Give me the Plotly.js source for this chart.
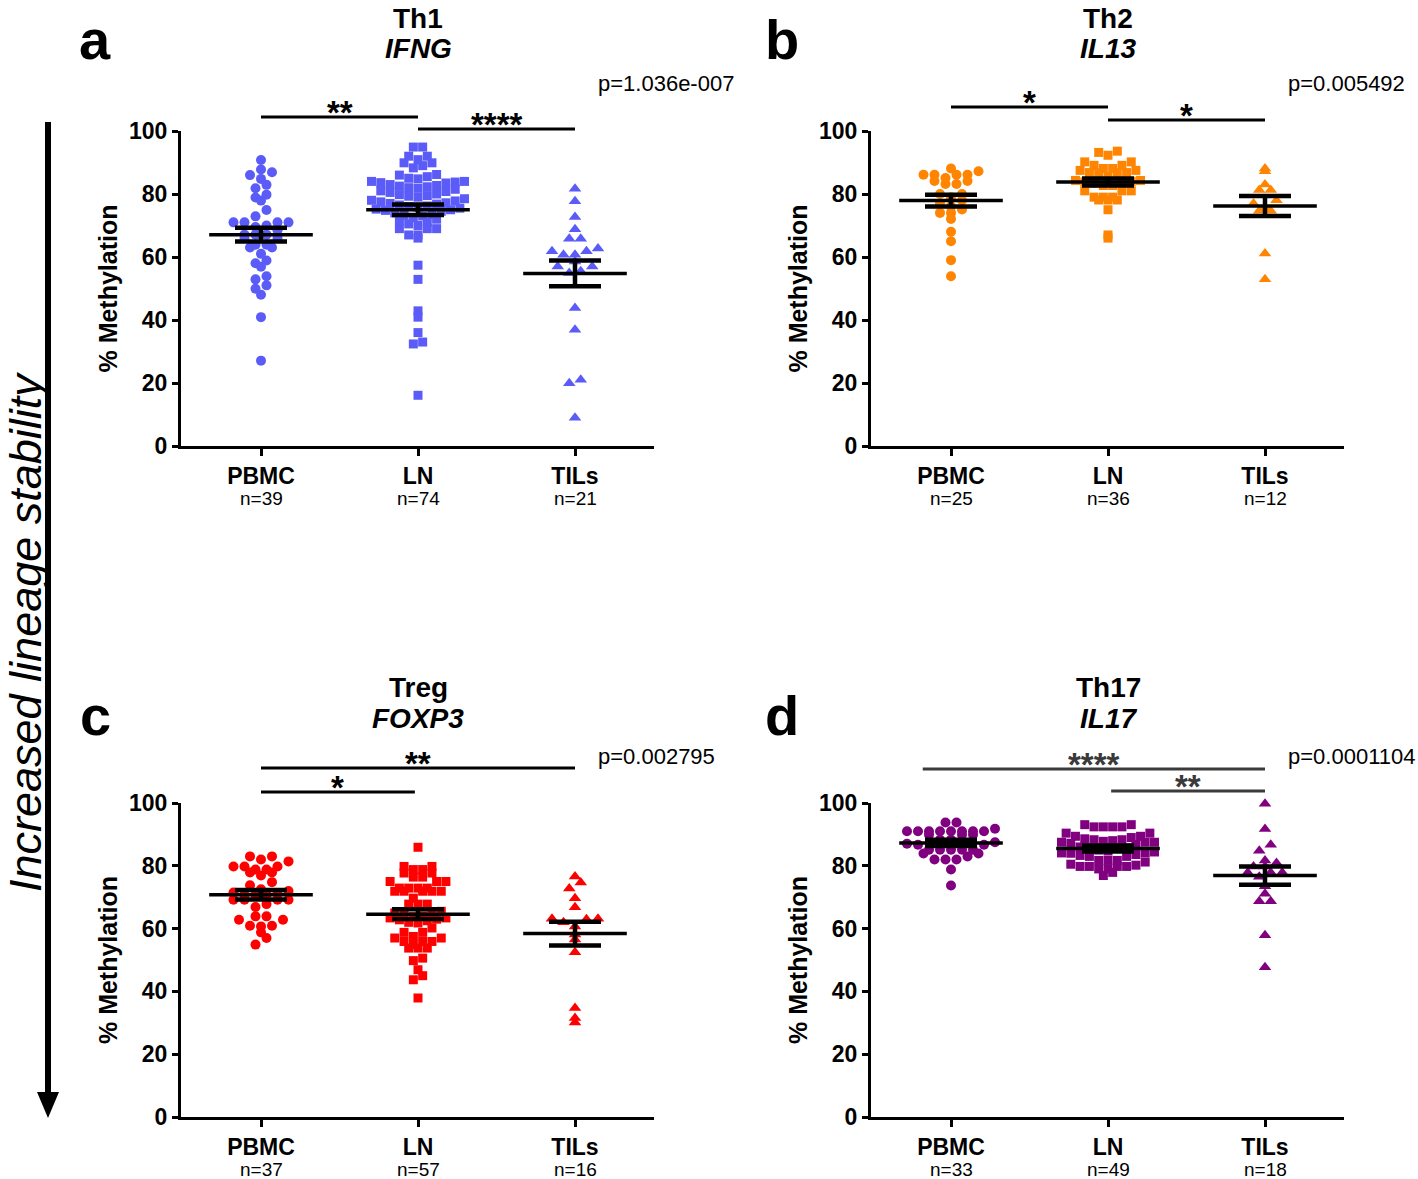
<!DOCTYPE html>
<html><head><meta charset="utf-8">
<script src="https://cdn.plot.ly/plotly-3.0.1.min.js"></script>
<style>body{margin:0;background:#fff}#chart{width:1418px;height:1179px}</style>
</head><body><div id="chart"></div>
<script>
// ---------------- DATA ----------------
const categories = ['PBMC', 'LN', 'TILs'];
const panelLetters = ['a', 'b', 'c', 'd'];
const cellTypes = ['Th1', 'Th2', 'Treg', 'Th17'];
const genes = ['IFNG', 'IL13', 'FOXP3', 'IL17'];
const pValues = ['p=1.036e-007', 'p=0.005492', 'p=0.002795', 'p=0.0001104'];

// Panel a: Th1 / IFNG
const th1_PBMC = [90.8, 87.8, 86.9, 86.0, 84.8, 82.9, 81.8, 79.8, 78.9, 77.9, 74.9, 72.9, 71.0, 71.0, 71.0, 71.0, 70.0, 69.5, 68.5, 67.1, 67.1, 67.1, 66.0, 66.0, 63.9, 63.9, 63.0, 63.0, 61.0, 58.9, 58.0, 56.9, 53.9, 52.9, 51.0, 49.9, 48.0, 40.9, 27.1];
const th1_LN = [94.9, 94.9, 92.0, 92.0, 90.9, 89.9, 89.9, 89.0, 88.3,
  86.2, 86.0, 85.5, 85.0, 84.8, 77.8, 77.2, 76.8, 84.0, 84.0, 83.8, 83.6, 83.5,
  83.0, 82.7, 82.5, 82.3, 82.0, 81.8, 81.5, 81.0, 80.8, 80.5, 76.2, 75.8, 80.0, 79.8, 79.5, 79.3,
  79.0, 78.5, 78.0, 77.5, 77.0, 76.5, 76.0, 75.5, 75.2, 75.0, 74.8, 74.5, 74.0, 73.5, 73.2, 73.0, 72.5,
  72.0, 71.5, 71.0, 70.5, 70.0, 69.0, 69.0, 69.0, 67.0, 67.0, 66.0,
  57.4, 52.9, 42.9, 40.9, 36.0, 33.0, 32.4, 16.1];
const th1_TILs = [81.7, 77.7, 72.7, 68.8, 65.8, 65.8, 62.7, 61.8, 61.8, 60.7, 60.7, 58.6, 57.0, 57.0, 55.5, 54.9, 43.8, 36.9, 21.0, 19.9, 9.0];
const th1_mean = [67.1, 75.0, 54.8];
const th1_sem = [2.2, 1.7, 4.1];
const th1_n = [39, 74, 21];

// Panel b: Th2 / IL13
const th2_PBMC = [88.1, 87.2, 86.1, 86.1, 86.1, 86.1, 85.1, 84.1, 84.1, 83.2, 83.2, 80.0, 80.0, 79.0, 78.0, 77.0, 76.1, 75.1, 74.0, 74.0, 72.1, 68.0, 65.0, 59.0, 53.9];
const th2_LN = [93.6, 93.2, 92.3, 90.2, 90.2, 89.1, 89.1, 88.1, 88.1, 87.5, 87.5, 86.8, 86.8, 86.8, 86.8, 85.4, 84.3, 84.3, 84.0, 83.8, 83.6, 83.4, 82.7, 82.7, 81.0, 81.0, 81.0, 79.0, 79.0, 79.0, 78.1, 78.1, 78.1, 75.0, 67.0, 66.0];
const th2_TILs = [88.1, 87.2, 83.0, 81.3, 81.3, 78.0, 77.0, 75.8, 74.7, 74.7, 61.1, 52.9];
const th2_mean = [77.9, 83.8, 76.2];
const th2_sem = [1.9, 1.1, 3.2];
const th2_n = [25, 36, 12];

// Panel c: Treg / FOXP3
const treg_PBMC = [83.0, 83.0, 82.0, 81.4, 79.8, 79.8, 79.8, 78.8, 78.8, 77.9, 77.9, 76.9, 74.8, 73.8, 72.5, 72.0, 71.5, 71.2, 70.8, 70.8, 70.8, 69.2, 69.2, 69.2, 69.2, 67.8, 66.9, 63.9, 63.9, 62.8, 62.8, 60.9, 60.9, 60.7, 58.8, 57.0, 54.9];
const treg_LN = [85.9, 79.8, 79.8, 78.8, 78.8, 77.7, 77.7, 76.4, 76.4, 75.0, 75.0, 75.0, 72.9, 72.9, 72.9, 72.9, 71.9, 71.9, 71.9, 71.9, 71.9, 69.7, 67.8, 67.8, 67.8,
  65.5, 65.0, 65.0, 64.5, 64.0, 63.8, 63.4, 63.4, 63.0, 62.8, 62.5, 62.0, 61.8,
  60.2, 58.8, 58.8, 57.5, 57.0, 57.0, 55.9, 55.9, 55.9, 54.9, 53.8, 53.8, 53.8, 50.6, 49.8, 46.9, 45.0, 43.7, 37.9];
const treg_TILs = [76.6, 74.7, 72.8, 69.7, 66.8, 63.1, 63.1, 63.0, 62.0, 60.7, 58.1, 56.5, 52.5, 34.7, 31.5, 30.1];
const treg_mean = [70.8, 64.6, 58.4];
const treg_sem = [1.5, 1.55, 3.75];
const treg_n = [37, 57, 16];

// Panel d: Th17 / IL17
const th17_PBMC = [93.8, 93.8, 91.8, 91.0, 91.0, 91.0, 91.0, 91.0, 91.0, 91.0, 91.0, 89.9, 89.9, 89.9, 88.3, 88.3, 87.5, 87.0, 86.7, 86.7, 85.1, 85.1, 85.1, 85.1, 85.1, 83.9, 83.9, 83.0, 82.0, 82.0, 82.0, 78.8, 73.7];
const th17_LN = [93.1, 93.1, 92.4, 92.4, 92.4, 92.4, 90.4, 90.4, 89.4, 89.4, 88.3, 88.3, 87.5, 87.5, 87.5,
  89.0, 88.6, 88.0, 87.8, 87.2, 86.8, 81.2, 80.5, 86.0, 85.6, 80.2, 85.0, 84.7, 84.4, 84.0, 83.6, 83.3,
  85.7, 85.7, 84.1, 84.1, 83.0, 83.0, 81.7, 81.7, 81.7, 79.8, 79.8, 79.8, 79.8, 79.0, 79.0, 77.9, 76.9];
const th17_TILs = [99.8, 91.7, 86.7, 84.8, 81.7, 80.9, 79.8, 79.8, 77.9, 77.9, 77.9, 76.5, 73.5, 71.1, 68.7, 68.7, 57.9, 47.7];
const th17_mean = [87.3, 85.5, 76.9];
const th17_sem = [1.0, 0.95, 2.9];
const th17_n = [33, 49, 18];

// significance comparisons: [from category, to category], and labels
const th1_sigPairs = [[0, 1], [1, 2]];
const th1_sigLabels = ['**', '****'];
const th2_sigPairs = [[0, 1], [1, 2]];
const th2_sigLabels = ['*', '*'];
const treg_sigPairs = [[0, 2], [0, 0.98]];
const treg_sigLabels = ['**', '*'];
const th17_sigPairs = [[-0.18, 2], [1.02, 2]];
const th17_sigLabels = ['****', '**'];

// ---------------- LAYOUT / STYLE ----------------
const W = 1418, H = 1179;
const UNIT = 157;           // px per category
const YPX = 3.145;          // px per % unit
const colors = ['#5B5BF8', '#FF8400', '#FF0000', '#800080'];
const symbols = ['circle', 'square', 'triangle-up'];
const msize = [10, 9, 11];
const rowStep = [11, 9.3, 11.5];   // horizontal spacing of points within a row (px)
const ROW_PX = 9.5;                // height of a row bin (px)
const SANS = '"Liberation Sans", Arial, sans-serif';

const panels = [
  {groups: [th1_PBMC, th1_LN, th1_TILs], mean: th1_mean, sem: th1_sem, n: th1_n, pairs: th1_sigPairs, labels: th1_sigLabels,
   cx0: 261, top: 131, bottom: 446, sigY: [117, 129], sigColor: '#000', titleY: [18, 48], pY: 84, letterXY: [95, 40]},
  {groups: [th2_PBMC, th2_LN, th2_TILs], mean: th2_mean, sem: th2_sem, n: th2_n, pairs: th2_sigPairs, labels: th2_sigLabels,
   cx0: 951, top: 131, bottom: 446, sigY: [107, 120], sigColor: '#000', titleY: [18, 48], pY: 84, letterXY: [782, 40]},
  {groups: [treg_PBMC, treg_LN, treg_TILs], mean: treg_mean, sem: treg_sem, n: treg_n, pairs: treg_sigPairs, labels: treg_sigLabels,
   cx0: 261, top: 803, bottom: 1117, sigY: [768, 792], sigColor: '#000', titleY: [687, 718], pY: 756, letterXY: [95, 715]},
  {groups: [th17_PBMC, th17_LN, th17_TILs], mean: th17_mean, sem: th17_sem, n: th17_n, pairs: th17_sigPairs, labels: th17_sigLabels,
   cx0: 951, top: 803, bottom: 1117, sigY: [769, 791], sigColor: '#3a3a3a', titleY: [687, 718], pY: 756, letterXY: [782, 715]}
];

const px = x => x / W;
const py = y => 1 - y / H;

// Prism-style scatter: values are binned into rows, each row spread symmetrically
function rowOffsets(values, step) {
  const binU = ROW_PX / YPX;
  const bins = {};
  values.forEach((v, i) => { const b = Math.floor(v / binU); (bins[b] = bins[b] || []).push(i); });
  const out = new Array(values.length);
  Object.values(bins).forEach(list => {
    list.sort((a, b) => values[a] - values[b]);
    const n = list.length;
    list.forEach((idx, j) => {
      let pos;
      if (n % 2 === 1) pos = j === 0 ? 0 : Math.ceil(j / 2) * (j % 2 ? -1 : 1);
      else pos = (Math.floor(j / 2) + 0.5) * (j % 2 ? 1 : -1);
      out[idx] = pos * step;
    });
  });
  return out;
}

const traces = [];
const layout = {
  width: W, height: H, margin: {l: 0, r: 0, t: 0, b: 0},
  paper_bgcolor: '#fff', plot_bgcolor: 'rgba(0,0,0,0)', showlegend: false,
  font: {family: SANS, color: '#000'},
  shapes: [], annotations: []
};

function note(x, y, text, font, extra) {
  return Object.assign({xref: 'paper', yref: 'paper', x: px(x), y: py(y), xanchor: 'center', yanchor: 'middle',
    text: text, showarrow: false, font: font}, extra || {});
}

panels.forEach((P, k) => {
  const ax = k === 0 ? '' : String(k + 1);
  const xa = 'x' + ax, ya = 'y' + ax;
  const xr = [-0.51, 2.5];
  const xl = P.cx0 + xr[0] * UNIT, xrgt = P.cx0 + xr[1] * UNIT;
  layout['xaxis' + ax] = {
    domain: [px(xl), px(xrgt)], range: xr, anchor: ya,
    tickvals: [0, 1, 2], ticktext: categories, ticks: 'outside', ticklen: 7, tickwidth: 3, tickcolor: '#000',
    showline: true, linewidth: 3, linecolor: '#000', showgrid: false, zeroline: false, fixedrange: true,
    tickfont: {family: SANS, size: 23, weight: 'bold', color: '#000'}
  };
  layout['yaxis' + ax] = {
    domain: [py(P.bottom), py(P.top)], range: [0, 100], anchor: xa,
    tickvals: [0, 20, 40, 60, 80, 100], ticks: 'outside', ticklen: 6, tickwidth: 3, tickcolor: '#000',
    showline: true, linewidth: 3, linecolor: '#000', showgrid: false, zeroline: false, fixedrange: true,
    tickfont: {family: SANS, size: 23, weight: 'bold', color: '#000'},
    title: {text: '% Methylation', font: {family: SANS, size: 25, weight: 'bold', color: '#000'}, standoff: 5}
  };

  // points
  P.groups.forEach((vals, g) => {
    const off = rowOffsets(vals, rowStep[g]);
    traces.push({
      type: 'scatter', mode: 'markers', xaxis: xa, yaxis: ya, cliponaxis: false,
      x: vals.map((v, i) => g + off[i] / UNIT), y: vals,
      marker: {symbol: symbols[g], size: msize[g], color: colors[k], line: {width: 0}},
      hoverinfo: 'y'
    });
  });
  // mean lines
  const mx = [], my = [];
  P.mean.forEach((m, g) => { mx.push(g - 0.33, g + 0.33, null); my.push(m, m, null); });
  traces.push({type: 'scatter', mode: 'lines', xaxis: xa, yaxis: ya, x: mx, y: my,
    line: {color: '#000', width: 3.5}, hoverinfo: 'skip', cliponaxis: false});
  // SEM error bars
  traces.push({type: 'scatter', mode: 'markers', xaxis: xa, yaxis: ya, x: [0, 1, 2], y: P.mean,
    marker: {size: 1, opacity: 0}, hoverinfo: 'skip', cliponaxis: false,
    error_y: {type: 'data', array: P.sem, visible: true, color: '#000', thickness: 4.5, width: 26}});

  // significance bars
  P.pairs.forEach((pr, j) => {
    const yb = P.sigY[j];
    layout.shapes.push({type: 'line', xref: xa, yref: 'paper', x0: pr[0], x1: pr[1], y0: py(yb), y1: py(yb),
      line: {color: P.sigColor, width: 3}});
    layout.annotations.push({xref: xa, yref: 'paper', x: (pr[0] + pr[1]) / 2, y: py(yb + 16), xanchor: 'center', yanchor: 'bottom',
      text: P.labels[j], showarrow: false, font: {family: SANS, size: 33, weight: 'bold', color: P.sigColor}});
  });

  const cmid = P.cx0 + UNIT;
  // titles (cell type + italic gene)
  layout.annotations.push(note(cmid, P.titleY[0], cellTypes[k], {family: SANS, size: 28, weight: 'bold'}));
  layout.annotations.push(note(cmid, P.titleY[1], '<i>' + genes[k] + '</i>', {family: SANS, size: 28, weight: 'bold'}));
  // p-value
  layout.annotations.push(note(P.cx0 + 335, P.pY, pValues[k], {family: SANS, size: 22}, {xanchor: 'left'}));
  // panel letter
  layout.annotations.push(note(P.letterXY[0], P.letterXY[1], panelLetters[k], {family: SANS, size: 56, weight: 'bold'}));
  // n labels
  P.n.forEach((nv, g) => {
    layout.annotations.push({xref: xa, yref: 'paper', x: g, y: py(P.bottom + 52), xanchor: 'center', yanchor: 'middle',
      text: 'n=' + nv, showarrow: false, font: {family: SANS, size: 19}});
  });
});

// left arrow + text
layout.shapes.push({type: 'line', xref: 'paper', yref: 'paper', x0: px(48), x1: px(48), y0: py(122), y1: py(1098),
  line: {color: '#000', width: 6}});
layout.shapes.push({type: 'path', xref: 'paper', yref: 'paper', fillcolor: '#000', line: {width: 0},
  path: `M ${px(37)},${py(1092)} L ${px(59)},${py(1092)} L ${px(48)},${py(1118)} Z`});
layout.annotations.push(note(25, 632, '<i>Increased lineage stability</i>', {family: SANS, size: 45}, {textangle: -90, borderpad: 0}));

Plotly.newPlot('chart', traces, layout, {displayModeBar: false, staticPlot: true});
</script>
</body></html>
